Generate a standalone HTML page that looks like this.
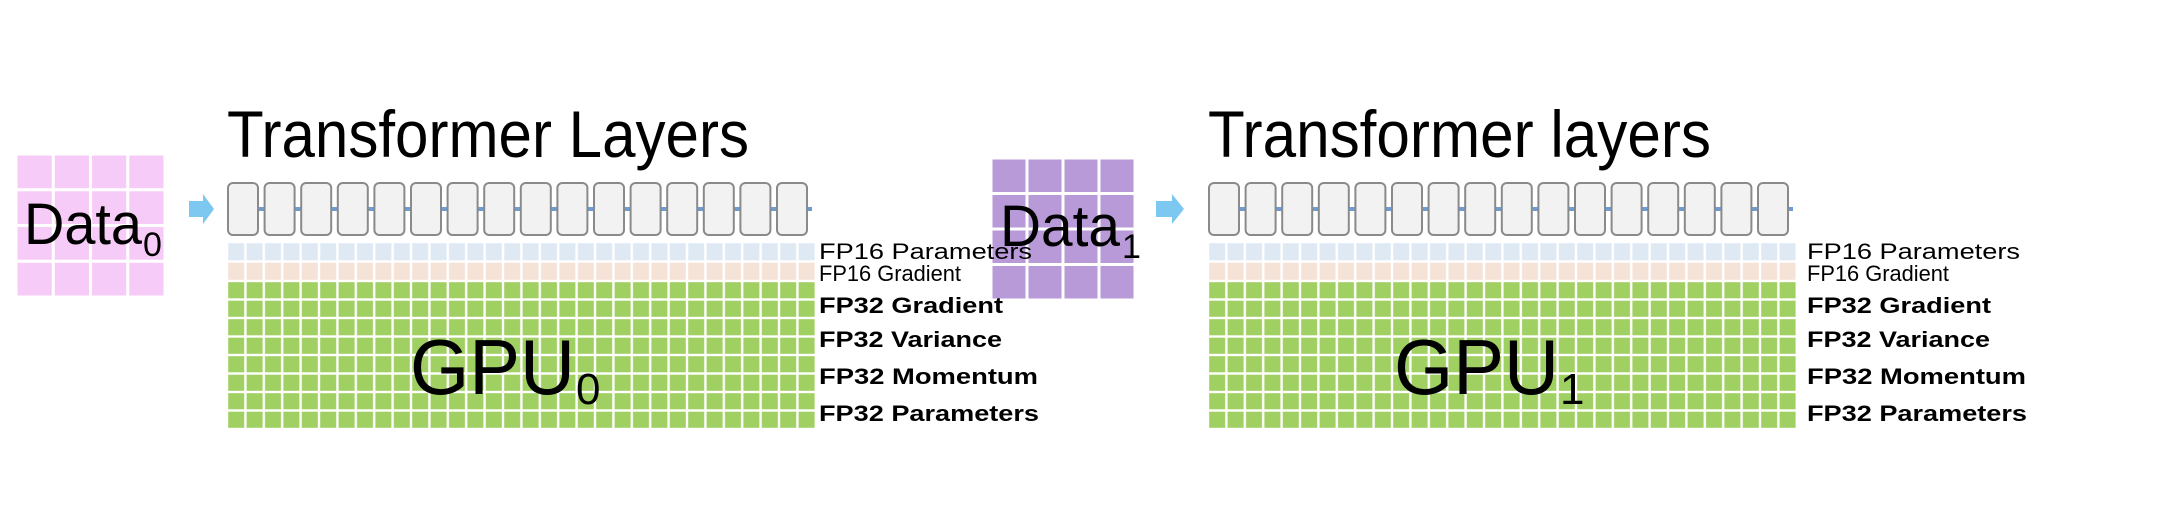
<!DOCTYPE html>
<html><head><meta charset="utf-8"><style>
html,body{margin:0;padding:0;background:#fff;}
svg{display:block;}
text{font-family:"Liberation Sans Narrow","Liberation Sans",sans-serif;fill:#000;}
</style></head><body>
<svg width="2158" height="506" viewBox="0 0 2158 506" xmlns="http://www.w3.org/2000/svg">
<defs>
<pattern id="pk" x="16" y="154" width="37.25" height="35.75" patternUnits="userSpaceOnUse"><rect width="37.25" height="35.75" fill="#fff"/><rect x="1.5" y="1.5" width="34.25" height="32.75" fill="#f7cbf7"/></pattern>
<pattern id="pu" x="991" y="158" width="36" height="35.5" patternUnits="userSpaceOnUse"><rect width="36" height="35.5" fill="#fff"/><rect x="1.5" y="1.5" width="33" height="32.5" fill="#b99ad9"/></pattern>
<pattern id="bl" x="227" y="242" width="18.4" height="19.5" patternUnits="userSpaceOnUse"><rect width="18.4" height="19.5" fill="#fff"/><rect x="1.2" y="1.2" width="16" height="17.1" fill="#dfe9f4"/></pattern>
<pattern id="pe" x="227" y="261.5" width="18.4" height="19.5" patternUnits="userSpaceOnUse"><rect width="18.4" height="19.5" fill="#fff"/><rect x="1.2" y="1.2" width="16" height="17.1" fill="#f6e3d8"/></pattern>
<pattern id="gr" x="227" y="281" width="18.4" height="18.5" patternUnits="userSpaceOnUse"><rect width="18.4" height="18.5" fill="#fff"/><rect x="1.2" y="1.2" width="16" height="16.1" fill="#a0cf62"/></pattern>
<pattern id="bl2" x="1208" y="242" width="18.4" height="19.5" patternUnits="userSpaceOnUse"><rect width="18.4" height="19.5" fill="#fff"/><rect x="1.2" y="1.2" width="16" height="17.1" fill="#dfe9f4"/></pattern>
<pattern id="pe2" x="1208" y="261.5" width="18.4" height="19.5" patternUnits="userSpaceOnUse"><rect width="18.4" height="19.5" fill="#fff"/><rect x="1.2" y="1.2" width="16" height="17.1" fill="#f6e3d8"/></pattern>
<pattern id="gr2" x="1208" y="281" width="18.4" height="18.5" patternUnits="userSpaceOnUse"><rect width="18.4" height="18.5" fill="#fff"/><rect x="1.2" y="1.2" width="16" height="16.1" fill="#a0cf62"/></pattern>
<g id="boxes">
<line x1="0" y1="26" x2="585" y2="26" stroke="#6d9cd4" stroke-width="4"/>
<rect x="1" y="0" width="30" height="52" rx="5" fill="#f2f2f2" stroke="#8a8a8a" stroke-width="2"/>
<rect x="37.6" y="0" width="30" height="52" rx="5" fill="#f2f2f2" stroke="#8a8a8a" stroke-width="2"/>
<rect x="74.2" y="0" width="30" height="52" rx="5" fill="#f2f2f2" stroke="#8a8a8a" stroke-width="2"/>
<rect x="110.8" y="0" width="30" height="52" rx="5" fill="#f2f2f2" stroke="#8a8a8a" stroke-width="2"/>
<rect x="147.4" y="0" width="30" height="52" rx="5" fill="#f2f2f2" stroke="#8a8a8a" stroke-width="2"/>
<rect x="184" y="0" width="30" height="52" rx="5" fill="#f2f2f2" stroke="#8a8a8a" stroke-width="2"/>
<rect x="220.6" y="0" width="30" height="52" rx="5" fill="#f2f2f2" stroke="#8a8a8a" stroke-width="2"/>
<rect x="257.2" y="0" width="30" height="52" rx="5" fill="#f2f2f2" stroke="#8a8a8a" stroke-width="2"/>
<rect x="293.8" y="0" width="30" height="52" rx="5" fill="#f2f2f2" stroke="#8a8a8a" stroke-width="2"/>
<rect x="330.4" y="0" width="30" height="52" rx="5" fill="#f2f2f2" stroke="#8a8a8a" stroke-width="2"/>
<rect x="367" y="0" width="30" height="52" rx="5" fill="#f2f2f2" stroke="#8a8a8a" stroke-width="2"/>
<rect x="403.6" y="0" width="30" height="52" rx="5" fill="#f2f2f2" stroke="#8a8a8a" stroke-width="2"/>
<rect x="440.2" y="0" width="30" height="52" rx="5" fill="#f2f2f2" stroke="#8a8a8a" stroke-width="2"/>
<rect x="476.8" y="0" width="30" height="52" rx="5" fill="#f2f2f2" stroke="#8a8a8a" stroke-width="2"/>
<rect x="513.4" y="0" width="30" height="52" rx="5" fill="#f2f2f2" stroke="#8a8a8a" stroke-width="2"/>
<rect x="550" y="0" width="30" height="52" rx="5" fill="#f2f2f2" stroke="#8a8a8a" stroke-width="2"/>
</g>
</defs>

<!-- Data0 -->
<rect x="16" y="154" width="149" height="143" fill="url(#pk)"/>
<text x="24" y="244" font-size="58" textLength="118" lengthAdjust="spacingAndGlyphs">Data</text>
<text x="143" y="256" font-size="34">0</text>
<polygon points="189,201 203,201 203,194 214,209 203,224 203,217 189,217" fill="#7cc8f0"/>

<!-- Data1 box (drawn before labels so labels overlay it) -->
<rect x="991" y="158" width="144" height="142" fill="url(#pu)"/>

<!-- Left block -->
<text x="227" y="157" font-size="66" textLength="522" lengthAdjust="spacingAndGlyphs">Transformer Layers</text>
<use href="#boxes" x="227" y="183"/>
<rect x="227" y="242" width="588" height="19.5" fill="url(#bl)"/>
<rect x="227" y="261.5" width="588" height="19.5" fill="url(#pe)"/>
<rect x="227" y="281" width="588" height="148" fill="url(#gr)"/>
<text x="410" y="394" font-size="78" textLength="165" lengthAdjust="spacingAndGlyphs">GPU</text>
<text x="576" y="404" font-size="44">0</text>
<g font-size="22">
<text x="819" y="259" textLength="213" lengthAdjust="spacingAndGlyphs">FP16 Parameters</text>
<text x="819" y="281" textLength="142" lengthAdjust="spacingAndGlyphs">FP16 Gradient</text>
<text x="819" y="313" font-weight="bold" textLength="184" lengthAdjust="spacingAndGlyphs">FP32 Gradient</text>
<text x="819" y="347" font-weight="bold" textLength="183" lengthAdjust="spacingAndGlyphs">FP32 Variance</text>
<text x="819" y="384" font-weight="bold" textLength="219" lengthAdjust="spacingAndGlyphs">FP32 Momentum</text>
<text x="819" y="421" font-weight="bold" textLength="220" lengthAdjust="spacingAndGlyphs">FP32 Parameters</text>
</g>

<!-- Data1 text -->
<text x="1000" y="246" font-size="58" textLength="120" lengthAdjust="spacingAndGlyphs">Data</text>
<text x="1122" y="258" font-size="34">1</text>
<polygon points="1156,201 1172,201 1172,194 1184,209 1172,224 1172,217 1156,217" fill="#7cc8f0"/>

<!-- Right block -->
<text x="1208" y="157" font-size="66" textLength="503" lengthAdjust="spacingAndGlyphs">Transformer layers</text>
<use href="#boxes" x="1208" y="183"/>
<rect x="1208" y="242" width="588" height="19.5" fill="url(#bl2)"/>
<rect x="1208" y="261.5" width="588" height="19.5" fill="url(#pe2)"/>
<rect x="1208" y="281" width="588" height="148" fill="url(#gr2)"/>
<text x="1394" y="394" font-size="78" textLength="165" lengthAdjust="spacingAndGlyphs">GPU</text>
<text x="1560" y="404" font-size="44">1</text>
<g font-size="22">
<text x="1807" y="259" textLength="213" lengthAdjust="spacingAndGlyphs">FP16 Parameters</text>
<text x="1807" y="281" textLength="142" lengthAdjust="spacingAndGlyphs">FP16 Gradient</text>
<text x="1807" y="313" font-weight="bold" textLength="184" lengthAdjust="spacingAndGlyphs">FP32 Gradient</text>
<text x="1807" y="347" font-weight="bold" textLength="183" lengthAdjust="spacingAndGlyphs">FP32 Variance</text>
<text x="1807" y="384" font-weight="bold" textLength="219" lengthAdjust="spacingAndGlyphs">FP32 Momentum</text>
<text x="1807" y="421" font-weight="bold" textLength="220" lengthAdjust="spacingAndGlyphs">FP32 Parameters</text>
</g>
</svg>
</body></html>
